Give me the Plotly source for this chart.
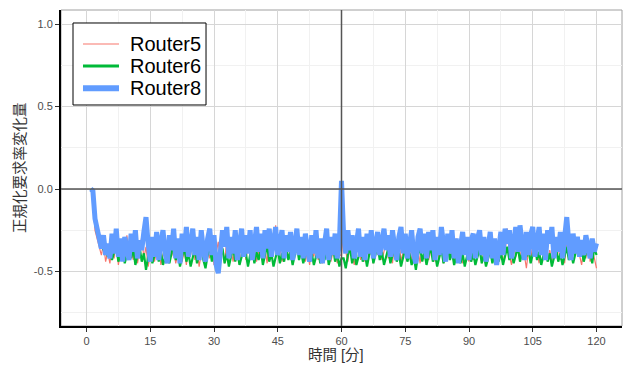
import plotly.graph_objects as go

# ---- data (time step 0.5 min starting at 1.0 min) ----
router5 = [
    0.00, -0.05, -0.25, -0.30, -0.36, -0.40, -0.33, -0.44, -0.38, -0.45,
    -0.35, -0.42, -0.30, -0.46, -0.37, -0.32, -0.44, -0.28, -0.40, -0.36,
    -0.43, -0.31, -0.45, -0.38, -0.29, -0.42, -0.35, -0.47, -0.40, -0.33,
    -0.44, -0.37, -0.31, -0.46, -0.39, -0.34, -0.43, -0.28, -0.41, -0.36,
    -0.45, -0.38, -0.32, -0.44, -0.37, -0.46, -0.33, -0.40, -0.29, -0.43,
    -0.36, -0.47, -0.39, -0.31, -0.44, -0.37, -0.42, -0.33, -0.46, -0.38,
    -0.32, -0.43, -0.36, -0.45, -0.30, -0.41, -0.37, -0.44, -0.34, -0.40,
    -0.46, -0.38, -0.31, -0.43, -0.36, -0.27, -0.41, -0.35, -0.44, -0.38,
    -0.32, -0.43, -0.36, -0.45, -0.30, -0.41, -0.37, -0.22, -0.40, -0.34,
    -0.44, -0.38, -0.31, -0.43, -0.36, -0.46, -0.39, -0.33, -0.42, -0.37,
    -0.30, -0.44, -0.38, -0.46, -0.35, -0.41, -0.32, -0.43, -0.37, -0.45,
    -0.36, -0.42, -0.31, -0.44, -0.38, -0.33, -0.45, -0.40, -0.40, -0.22,
    -0.38, -0.44, -0.33, -0.40, -0.46, -0.36, -0.30, -0.43, -0.37, -0.44,
    -0.33, -0.41, -0.36, -0.45, -0.29, -0.40, -0.34, -0.43, -0.38, -0.31,
    -0.42, -0.37, -0.45, -0.33, -0.40, -0.28, -0.44, -0.38, -0.35, -0.42,
    -0.36, -0.44, -0.31, -0.41, -0.37, -0.45, -0.33, -0.40, -0.29, -0.43,
    -0.38, -0.32, -0.44, -0.37, -0.42, -0.34, -0.45, -0.39, -0.31, -0.43,
    -0.37, -0.44, -0.30, -0.41, -0.36, -0.45, -0.33, -0.40, -0.44, -0.37,
    -0.43, -0.36, -0.41, -0.33, -0.45, -0.38, -0.42, -0.29, -0.40, -0.35,
    -0.44, -0.37, -0.41, -0.33, -0.45, -0.38, -0.24, -0.40, -0.46, -0.35,
    -0.41, -0.36, -0.44, -0.31, -0.40, -0.48, -0.37, -0.43, -0.33, -0.41,
    -0.38, -0.45, -0.27, -0.40, -0.35, -0.43, -0.37, -0.44, -0.32, -0.40,
    -0.36, -0.43, -0.38, -0.45, -0.31, -0.41, -0.36, -0.44, -0.39, -0.33,
    -0.40, -0.46, -0.36, -0.42, -0.31, -0.44, -0.38, -0.42, -0.48,
]

router6 = [
    0.00, -0.03, -0.20, -0.27, -0.30, -0.34, -0.37, -0.33, -0.41, -0.36,
    -0.43, -0.38, -0.35, -0.44, -0.39, -0.34, -0.45, -0.40, -0.37, -0.42,
    -0.36, -0.46, -0.40, -0.35, -0.44, -0.39, -0.49, -0.41, -0.36, -0.45,
    -0.40, -0.34, -0.44, -0.38, -0.46, -0.41, -0.36, -0.45, -0.39, -0.33,
    -0.43, -0.38, -0.47, -0.40, -0.35, -0.44, -0.39, -0.47, -0.41, -0.36,
    -0.45, -0.39, -0.34, -0.43, -0.48, -0.40, -0.35, -0.44, -0.38, -0.46,
    -0.49, -0.41, -0.36, -0.45, -0.39, -0.47, -0.40, -0.35, -0.44, -0.38,
    -0.46, -0.41, -0.31, -0.39, -0.47, -0.40, -0.35, -0.45, -0.38, -0.43,
    -0.36, -0.46, -0.40, -0.34, -0.44, -0.39, -0.47, -0.41, -0.36, -0.45,
    -0.39, -0.44, -0.35, -0.43, -0.38, -0.46, -0.40, -0.34, -0.43, -0.38,
    -0.45, -0.40, -0.35, -0.44, -0.39, -0.46, -0.41, -0.36, -0.45, -0.39,
    -0.43, -0.36, -0.46, -0.40, -0.35, -0.44, -0.39, -0.47, -0.42, -0.42,
    -0.48, -0.40, -0.35, -0.45, -0.38, -0.46, -0.41, -0.33, -0.44, -0.39,
    -0.47, -0.40, -0.36, -0.45, -0.39, -0.34, -0.43, -0.38, -0.46, -0.41,
    -0.36, -0.45, -0.40, -0.35, -0.44, -0.39, -0.47, -0.41, -0.36, -0.44,
    -0.39, -0.46, -0.41, -0.49, -0.40, -0.35, -0.44, -0.38, -0.46, -0.40,
    -0.35, -0.44, -0.39, -0.47, -0.41, -0.36, -0.45, -0.40, -0.34, -0.43,
    -0.38, -0.46, -0.41, -0.36, -0.45, -0.39, -0.47, -0.40, -0.35, -0.44,
    -0.39, -0.46, -0.41, -0.36, -0.45, -0.40, -0.47, -0.42, -0.37, -0.45,
    -0.39, -0.34, -0.44, -0.38, -0.46, -0.40, -0.35, -0.43, -0.38, -0.45,
    -0.40, -0.35, -0.44, -0.38, -0.33, -0.41, -0.36, -0.45, -0.39, -0.34,
    -0.43, -0.38, -0.46, -0.40, -0.35, -0.44, -0.39, -0.47, -0.41, -0.36,
    -0.44, -0.39, -0.46, -0.40, -0.35, -0.43, -0.38, -0.45, -0.39, -0.34,
    -0.41, -0.36, -0.44, -0.39, -0.31, -0.38, -0.45, -0.35, -0.40,
]

router8 = [
    0.00, -0.01, -0.18, -0.25, -0.30, -0.36, -0.28, -0.40, -0.33, -0.42,
    -0.27, -0.39, -0.24, -0.41, -0.30, -0.44, -0.29, -0.36, -0.43, -0.27,
    -0.38, -0.25, -0.42, -0.31, -0.37, -0.26, -0.17, -0.33, -0.44, -0.29,
    -0.41, -0.26, -0.43, -0.32, -0.25, -0.39, -0.45, -0.28, -0.37, -0.24,
    -0.42, -0.30, -0.45, -0.27, -0.38, -0.23, -0.41, -0.34, -0.24, -0.40,
    -0.29, -0.43, -0.25, -0.37, -0.44, -0.30, -0.24, -0.40, -0.28, -0.46,
    -0.51, -0.38, -0.25, -0.35, -0.23, -0.42, -0.29, -0.39, -0.25, -0.43,
    -0.31, -0.24, -0.41, -0.28, -0.39, -0.25, -0.43, -0.30, -0.23, -0.38,
    -0.27, -0.42, -0.25, -0.36, -0.24, -0.41, -0.29, -0.23, -0.40, -0.31,
    -0.25, -0.42, -0.28, -0.38, -0.26, -0.43, -0.31, -0.24, -0.40, -0.29,
    -0.42, -0.27, -0.36, -0.44, -0.28, -0.39, -0.25, -0.42, -0.30, -0.45,
    -0.33, -0.24, -0.43, -0.29, -0.40, -0.27, -0.42, -0.33, 0.05, -0.28,
    -0.39, -0.25, -0.37, -0.28, -0.42, -0.30, -0.24, -0.41, -0.29, -0.43,
    -0.27, -0.39, -0.25, -0.42, -0.31, -0.26, -0.40, -0.29, -0.24, -0.37,
    -0.28, -0.41, -0.25, -0.35, -0.43, -0.29, -0.23, -0.39, -0.27, -0.42,
    -0.30, -0.25, -0.40, -0.45, -0.29, -0.24, -0.39, -0.27, -0.42, -0.26,
    -0.37, -0.25, -0.43, -0.29, -0.40, -0.23, -0.33, -0.44, -0.27, -0.39,
    -0.25, -0.42, -0.30, -0.45, -0.35, -0.26, -0.40, -0.29, -0.43, -0.31,
    -0.27, -0.42, -0.30, -0.25, -0.40, -0.29, -0.44, -0.33, -0.26, -0.42,
    -0.30, -0.46, -0.36, -0.26, -0.40, -0.24, -0.33, -0.25, -0.42, -0.29,
    -0.23, -0.38, -0.22, -0.33, -0.43, -0.26, -0.40, -0.28, -0.23, -0.41,
    -0.30, -0.23, -0.40, -0.27, -0.43, -0.25, -0.33, -0.23, -0.42, -0.29,
    -0.38, -0.26, -0.42, -0.30, -0.17, -0.33, -0.43, -0.27, -0.39, -0.29,
    -0.41, -0.31, -0.40, -0.28, -0.36, -0.42, -0.30, -0.38, -0.33,
]

T0, DT = 1.0, 0.5
series_names = ["Router5", "Router6", "Router8"]
series_vals = [router5, router6, router8]
series_colors = ["#F8766D", "#00BA38", "#619CFF"]
series_widths = [1.2, 2.2, 5]
legend_widths = [1.2, 3, 6]

x_ticks = [0, 15, 30, 45, 60, 75, 90, 105, 120]
y_ticks = [-0.5, 0.0, 0.5, 1.0]
y_ticklabels = ["-0.5", "0.0", "0.5", "1.0"]

FONT = "Liberation Sans, Arial, Noto Sans CJK JP, sans-serif"

fig = go.Figure()
for name, vals, col, w in zip(series_names, series_vals, series_colors, series_widths):
    xs = [T0 + DT * i for i in range(len(vals))]
    fig.add_trace(go.Scatter(x=xs, y=vals, mode="lines", name=name,
                             line=dict(color=col, width=w), showlegend=False))

grid_major = "#d6d6d6"
grid_minor = "#f1f1f1"

fig.update_layout(
    width=627, height=365,
    margin=dict(l=61, r=5, t=10, b=39, autoexpand=False),
    paper_bgcolor="white", plot_bgcolor="white",
    font=dict(family=FONT, color="#4d4d4d", size=11),
    showlegend=False,
    xaxis=dict(range=[-6, 126], tickvals=x_ticks, automargin=False,
               ticktext=[str(v) for v in x_ticks],
               showgrid=True, gridcolor=grid_major, gridwidth=1.2,
               minor=dict(dtick=7.5, tick0=0, showgrid=True, gridcolor=grid_minor, gridwidth=1),
               zeroline=False, showline=True, linecolor="black", linewidth=2,
               ticks="outside", ticklen=4, tickcolor="#333333", tickwidth=1,
               tickfont=dict(size=11, color="#4d4d4d")),
    yaxis=dict(range=[-0.83, 1.085], tickvals=y_ticks, ticktext=y_ticklabels, automargin=False,
               showgrid=True, gridcolor=grid_major, gridwidth=1.2,
               minor=dict(dtick=0.25, tick0=0, showgrid=True, gridcolor=grid_minor, gridwidth=1),
               zeroline=False, showline=True, linecolor="black", linewidth=2,
               ticks="outside", ticklen=4, tickcolor="#333333", tickwidth=1,
               tickfont=dict(size=11, color="#4d4d4d")),
)

# axis titles
fig.add_annotation(text="時間 [分]", xref="paper", yref="paper", x=0.49, y=0,
                   yshift=-29, xanchor="center", yanchor="middle", showarrow=False,
                   font=dict(size=14.5, color="#333333"))
fig.add_annotation(text="正規化要求率変化量", xref="paper", yref="paper", x=0, y=0.5,
                   xshift=-41, xanchor="center", yanchor="middle", showarrow=False,
                   textangle=-90, font=dict(size=14.5, color="#333333"))

# panel border (top/right in gray)
fig.add_shape(type="rect", xref="paper", yref="paper", x0=0, y0=0, x1=1, y1=1,
              line=dict(color="#a0a0a0", width=1), layer="below")
# reference lines
fig.add_hline(y=0, line=dict(color="#555555", width=1.5), layer="above")
fig.add_vline(x=60, line=dict(color="#555555", width=1.5), layer="above")

# custom legend (box, line keys, labels) in paper coordinates
fig.add_shape(type="rect", xref="paper", yref="paper", x0=0.0214, x1=0.2585,
              y0=0.6994, y1=0.9589, fillcolor="white",
              line=dict(color="black", width=1), layer="above")
legend_y = [0.8924, 0.8228, 0.7522]
for name, col, lw, ly in zip(series_names, series_colors, legend_widths, legend_y):
    fig.add_shape(type="line", xref="paper", yref="paper", x0=0.0392, x1=0.1034,
                  y0=ly, y1=ly, line=dict(color=col, width=lw), layer="above")
    fig.add_annotation(text=name, xref="paper", yref="paper", x=0.1194, y=ly,
                       xanchor="left", yanchor="middle", showarrow=False,
                       font=dict(size=20, color="black", family=FONT))

fig.write_html("out.html", config={"displayModeBar": False},
               post_script="document.body.style.margin='0';")
